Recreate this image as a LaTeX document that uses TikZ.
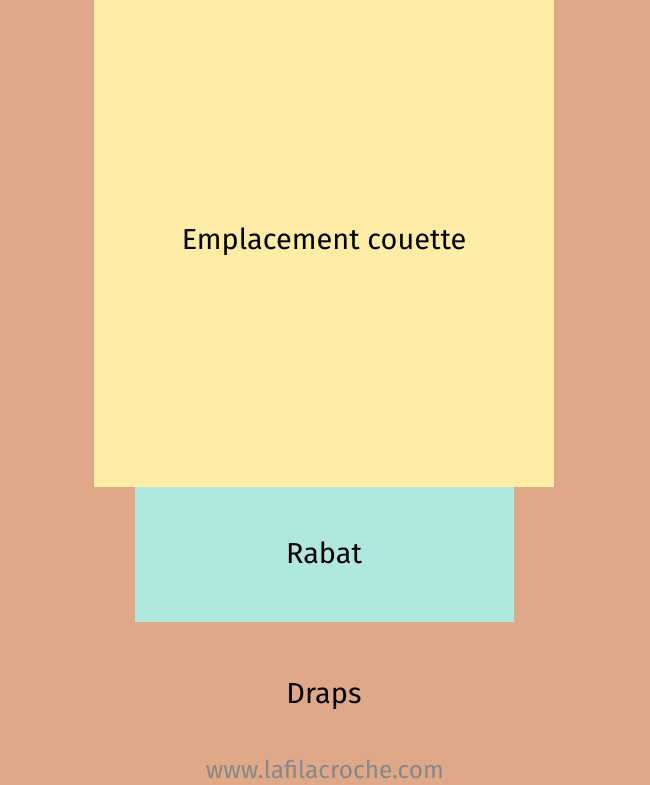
\documentclass[tikz,border=0pt]{standalone}
\usepackage{fontspec}
\setmainfont{Fira Sans}
\definecolor{draps}{HTML}{DFA989}
\definecolor{couette}{HTML}{FFECA5}
\definecolor{rabat}{HTML}{B0E8DE}
\definecolor{site}{HTML}{878787}
\tikzset{
  label text/.style={font=\fontsize{29}{34}\selectfont, text=black},
  site text/.style={font=\fontsize{24.5}{29}\selectfont, text=site}
}
\begin{document}
\begin{tikzpicture}[x=1bp,y=-1bp]

% Fond (draps)
\fill[draps] (0,0) rectangle (650,785);
\useasboundingbox (0,0) rectangle (650,785);

% Emplacement couette
\fill[couette] (94,0) rectangle (554,487);
\node[label text] (couette) at (324,242) {Emplacement couette};

% Rabat
\fill[rabat] (135,487) rectangle (514,622);
\node[label text] (rabat) at (324,553) {Rabat};

% Draps
\node[label text] (draps) at (324,697) {Draps};

% Site
\node[site text] (site) at (325,769) {www.lafilacroche.com};

\end{tikzpicture}
\end{document}
